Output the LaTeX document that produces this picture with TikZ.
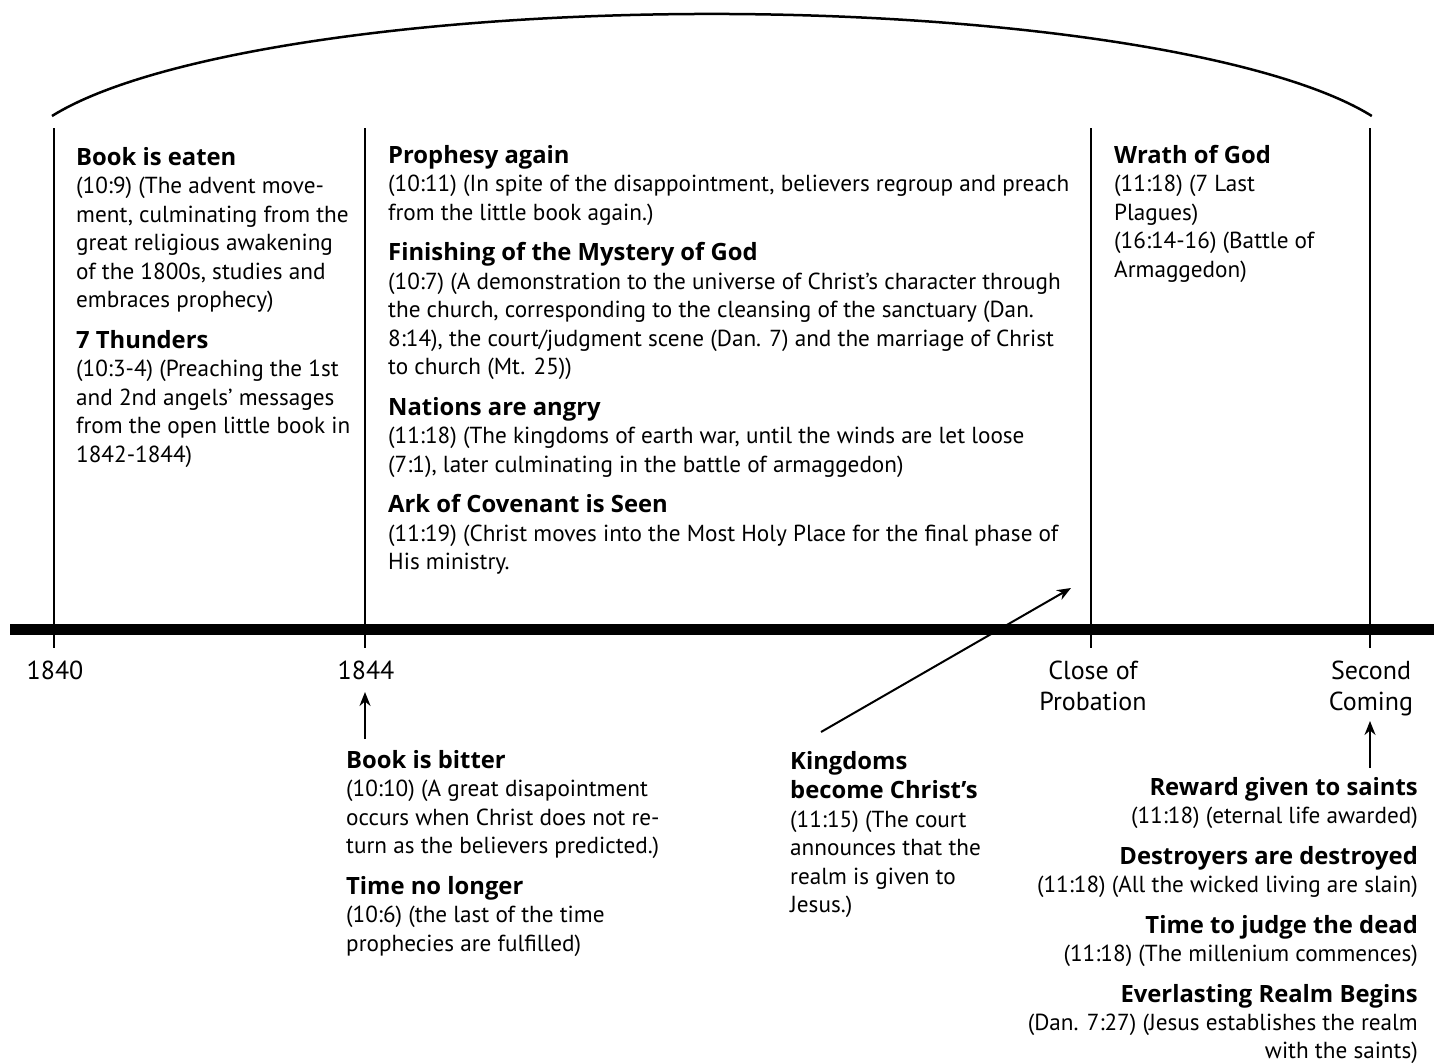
\documentclass[tikz,border=0pt]{standalone}
\usepackage{fontspec}
\setmainfont{PT Sans}
\newfontfamily\hdfont{Open Sans}
\usetikzlibrary{arrows.meta}
\newcommand\hdx[1]{{\hdfont\bfseries\fontsize{23.8}{28.5}\selectfont #1}}
\tikzset{
  txt/.style={inner sep=0pt, font=\fontsize{23.2}{28.5}\selectfont},
  blk/.style={txt, anchor=north west, align=left},
  blkr/.style={txt, anchor=north east, align=right},
  lbl/.style={txt, anchor=north, align=center, font=\fontsize{26}{31}\selectfont},
  tick/.style={line width=2pt},
  timeline/.style={line width=11pt},
  dome/.style={line width=2.5pt},
  arr/.style={line width=2pt, -{Stealth[length=14pt,width=11pt]}}
}
\begin{document}
\begin{tikzpicture}[x=1pt,y=-1pt]
\useasboundingbox (0,0) rectangle (1434,1063);
% dome
\coordinate (dl) at (52,116);
\coordinate (dr) at (1372,116);
\draw[dome] (dl) arc[start angle=199.2, end angle=340.8, x radius=698.8, y radius=152];
% timeline
\coordinate (tl) at (10,629);
\coordinate (tr) at (1434,629);
\draw[timeline] (tl) -- (tr);
% ticks
\foreach \n/\x in {a/54,b/365,c/1091,d/1370}{
  \coordinate (\n top) at (\x,128);
  \coordinate (\n bot) at (\x,648);
  \draw[tick] (\n top) -- (\n bot);
}
% labels under timeline
\node[lbl] (l1840) at (55,661) {1840};
\node[lbl] (l1844) at (366,661) {1844};
\node[lbl] (lclose) at (1093,661) {Close of\\Probation};
\node[lbl] (lsecond) at (1371,661) {Second\\Coming};
% top blocks
\node[blk] (b1) at (76,147) {\hdx{Book is eaten}\\
(10:9) (The advent move-\\
ment, culminating from the\\
great religious awakening\\
of the 1800s, studies and\\
embraces prophecy)\\[12pt]
\hdx{7 Thunders}\\
(10:3-4) (Preaching the 1st\\
and 2nd angels’ messages\\
from the open little book in\\
1842-1844)};
\node[blk] (b2) at (388,145) {\hdx{Prophesy again}\\
(10:11) (In spite of the disappointment, believers regroup and preach\\
from the little book again.)\\[12pt]
\hdx{Finishing of the Mystery of God}\\
(10:7) (A demonstration to the universe of Christ’s character through\\
the church, corresponding to the cleansing of the sanctuary (Dan.\\
8:14), the court/judgment scene (Dan. 7) and the marriage of Christ\\
to church (Mt. 25))\\[12pt]
\hdx{Nations are angry}\\
(11:18) (The kingdoms of earth war, until the winds are let loose\\
(7:1), later culminating in the battle of armaggedon)\\[12pt]
\hdx{Ark of Covenant is Seen}\\
(11:19) (Christ moves into the Most Holy Place for the final phase of\\
His ministry.};
\node[blk] (b3) at (1114,145) {\hdx{Wrath of God}\\
(11:18) (7 Last\\
Plagues)\\
(16:14-16) (Battle of\\
Armaggedon)};
% bottom blocks
\node[blk] (b4) at (346,750) {\hdx{Book is bitter}\\
(10:10) (A great disapointment\\
occurs when Christ does not re-\\
turn as the believers predicted.)\\[12pt]
\hdx{Time no longer}\\
(10:6) (the last of the time\\
prophecies are fulfilled)};
\node[blk] (b5) at (790,751) {\hdx{Kingdoms}\\[1pt]
\hdx{become Christ’s}\\
(11:15) (The court\\
announces that the\\
realm is given to\\
Jesus.)};
\node[blkr] (b6) at (1418,777) {\hdx{Reward given to saints}\\
(11:18) (eternal life awarded)\\[12pt]
\hdx{Destroyers are destroyed}\\
(11:18) (All the wicked living are slain)\\[12pt]
\hdx{Time to judge the dead}\\
(11:18) (The millenium commences)\\[12pt]
\hdx{Everlasting Realm Begins}\\
(Dan. 7:27) (Jesus establishes the realm\\[-1pt]
with the saints)};
% arrows
\coordinate (a1s) at (365,739);
\coordinate (a1e) at (365,692);
\draw[arr] (a1s) -- (a1e);
\coordinate (a2s) at (1370,768);
\coordinate (a2e) at (1370,721);
\draw[arr] (a2s) -- (a2e);
\coordinate (a3s) at (821,732);
\coordinate (a3e) at (1071,588);
\draw[arr] (a3s) -- (a3e);
\end{tikzpicture}
\end{document}
